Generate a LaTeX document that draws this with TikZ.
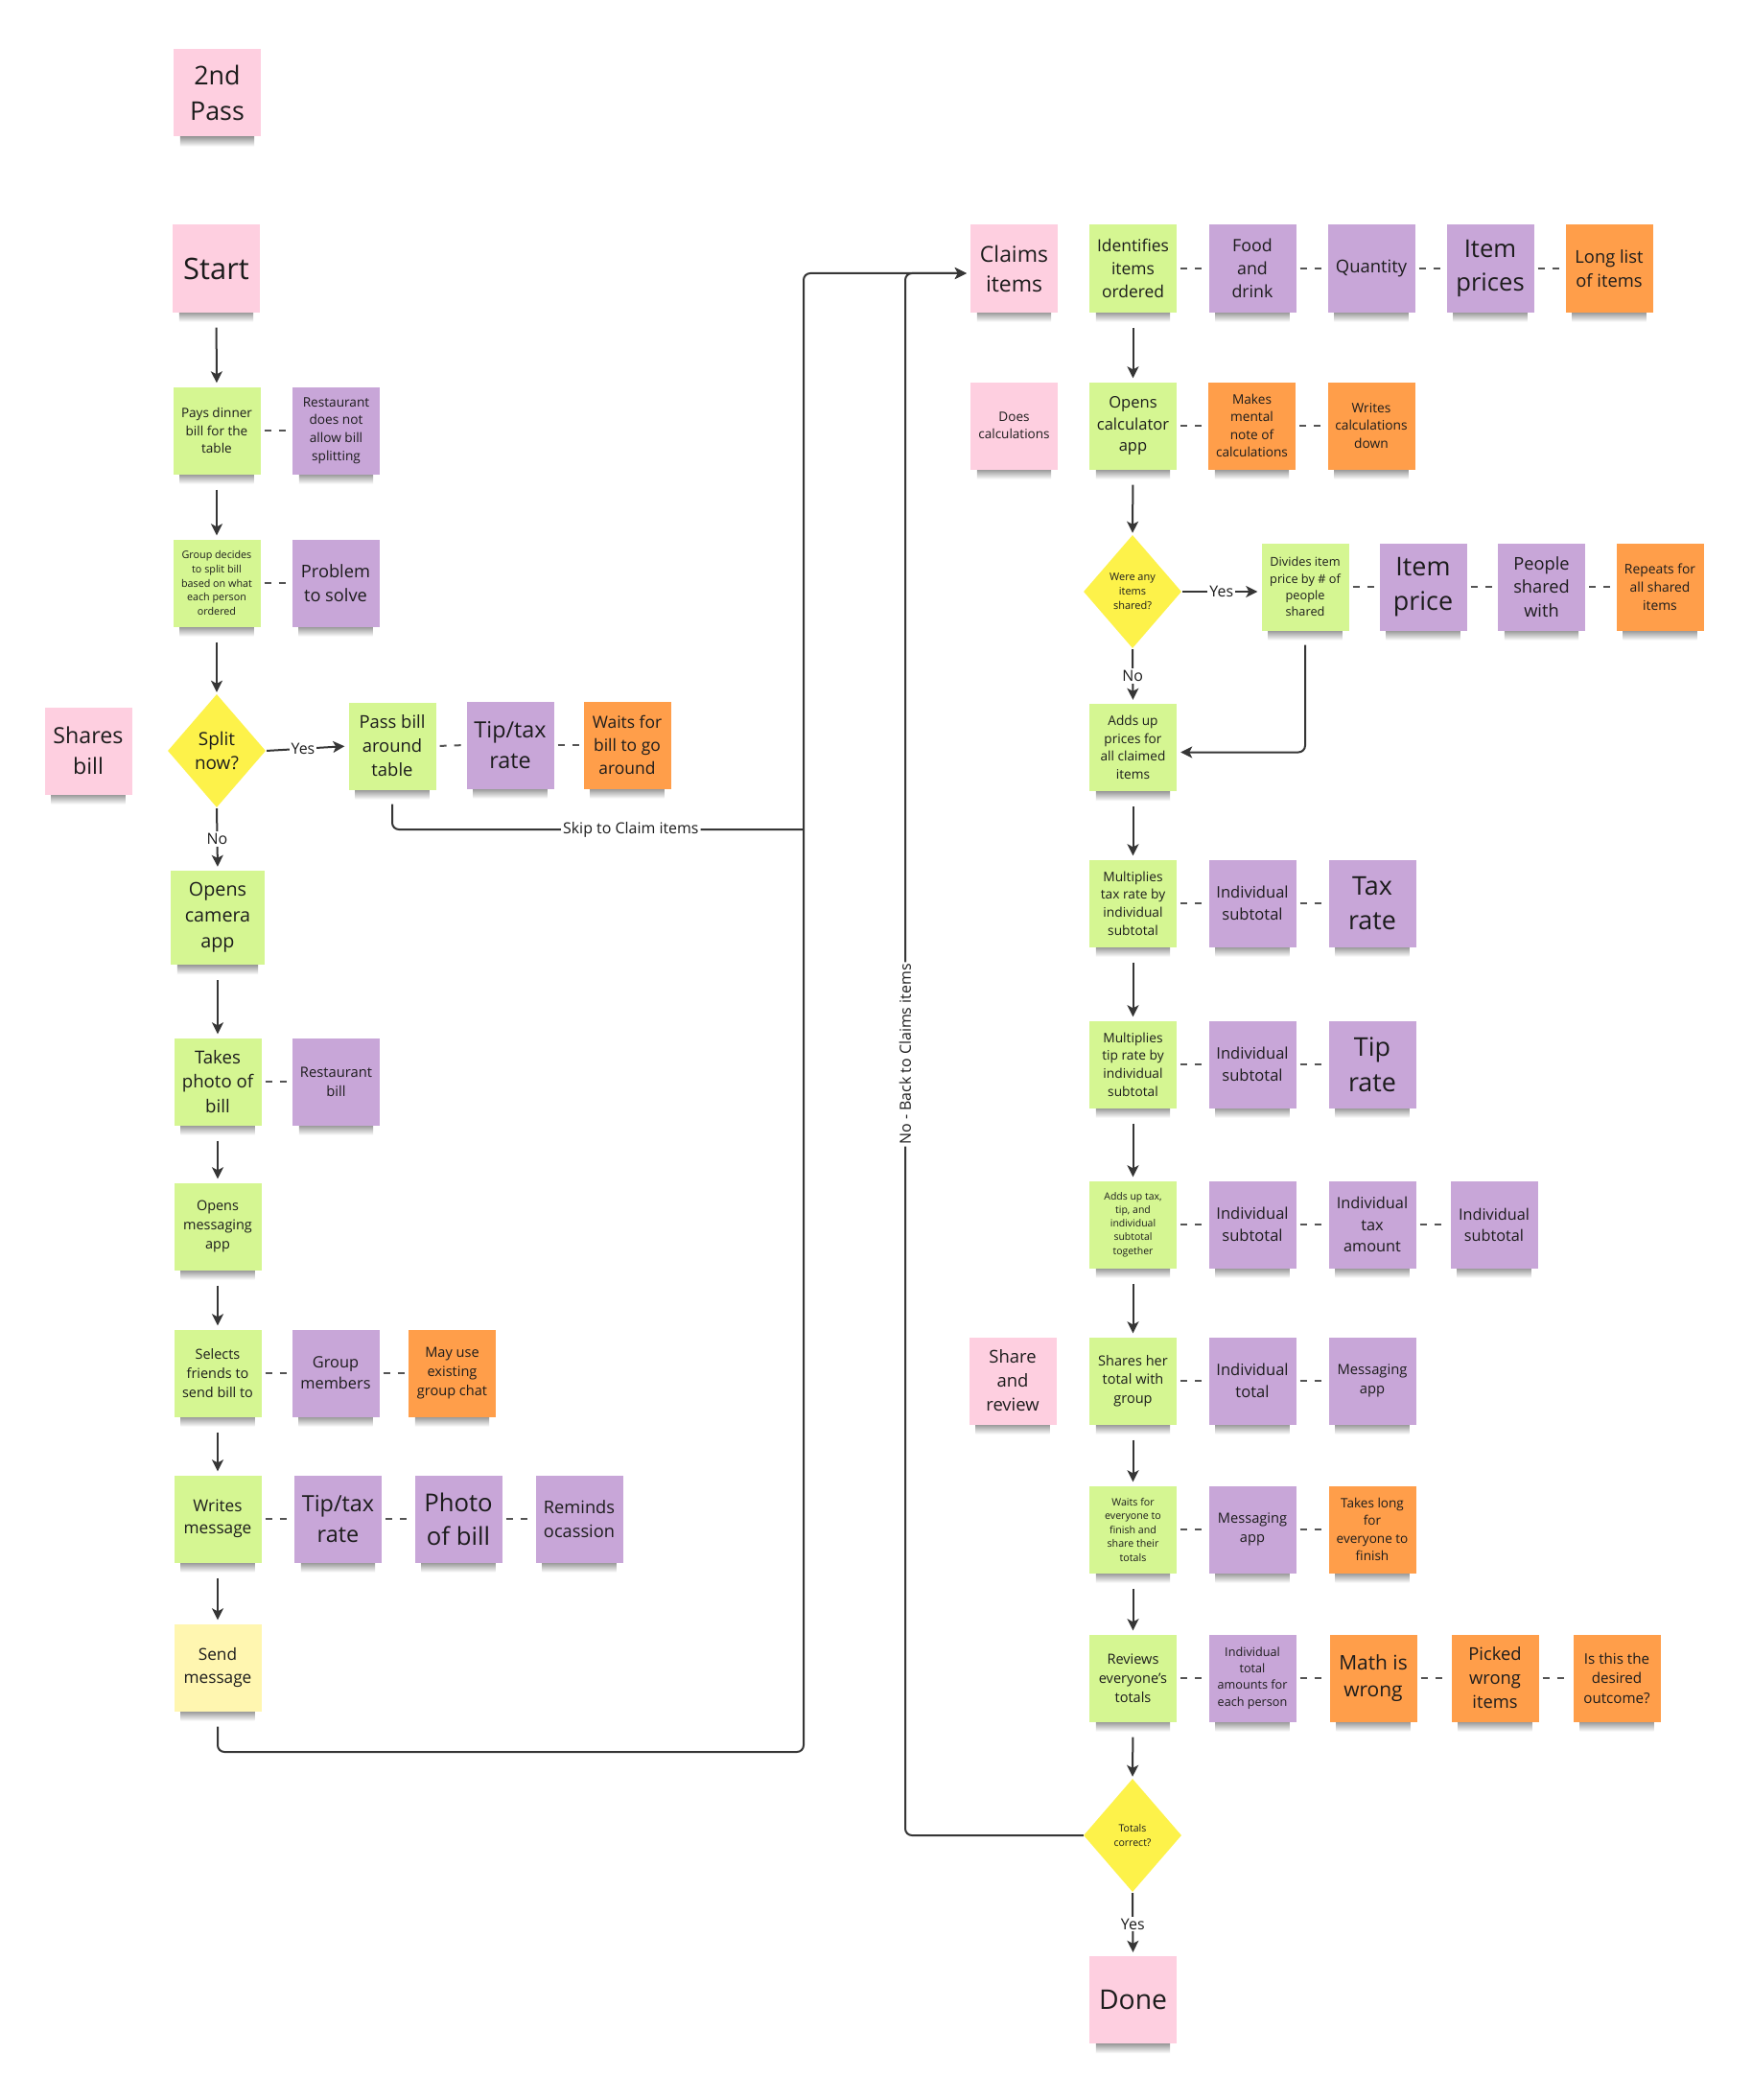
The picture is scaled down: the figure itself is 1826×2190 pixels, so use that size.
\documentclass[tikz,border=0pt]{standalone}
\usepackage{fontspec}
\setmainfont{Open Sans}
\usetikzlibrary{shapes.geometric,arrows.meta}
\pgfdeclarelayer{background}
\pgfsetlayers{background,main}
\definecolor{pinkC}{HTML}{FECFE0}
\definecolor{greenC}{HTML}{D5F692}
\definecolor{purpleC}{HTML}{C8A6D8}
\definecolor{orangeC}{HTML}{FF9E4A}
\definecolor{yelD}{HTML}{FDF24A}
\definecolor{lyC}{HTML}{FFF6B0}
\definecolor{lineC}{HTML}{363636}
\definecolor{txt}{HTML}{1C1C1C}
\newcommand\tfs[1]{\fontsize{#1}{\fpeval{1.36*#1}}\selectfont}
\tikzset{
  note/.style={rectangle, minimum width=91bp, minimum height=91bp, inner sep=1bp, align=center, text=txt},
  pk/.style={note, fill=pinkC},
  gr/.style={note, fill=greenC},
  pu/.style={note, fill=purpleC},
  og/.style={note, fill=orangeC},
  ly/.style={note, fill=lyC},
  tsz/.style={font=\tfs{#1}},
  dia/.style={diamond, fill=yelD, inner sep=0pt, minimum width=102bp, minimum height=118bp, align=center, text=txt},
  conn/.style={draw=lineC, line width=2bp},
  arr/.style={conn, -{Stealth[length=12bp,width=12bp,inset=3bp]}, shorten >=4bp},
  dsh/.style={draw=lineC!85, line width=2bp, dash pattern=on 7bp off 8bp, shorten <=4bp, shorten >=4bp},
  lbl/.style={fill=white, inner sep=2bp, text=txt, font=\fontsize{16}{19}\selectfont},
}
\begin{document}
\begin{tikzpicture}[x=1bp,y=-1bp]
\begin{pgfonlayer}{background}
\fill[white] (0,0) rectangle (1826,2190);
\end{pgfonlayer}
\useasboundingbox (0,0) rectangle (1826,2190);

% ---------- left column ----------
\node[pk, tsz=27] (pass2) at (226.5,97) {2nd\\Pass};
\node[pk, tsz=31] (start) at (225.5,280) {Start};
\node[gr, tsz=13.6] (pays) at (226,449) {Pays dinner\\bill for the\\table};
\node[pu, tsz=13.7] (rest1) at (350.5,449) {Restaurant\\does not\\allow bill\\splitting};
\node[gr, tsz=10.8] (group) at (226,608) {Group decides\\to split bill\\based on what\\each person\\ordered};
\node[pu, tsz=18.3] (problem) at (350,608) {Problem\\to solve};
\node[dia, tsz=19] (split) at (226,783) {Split\\now?};
\node[pk, tsz=23.3] (shares) at (92,783) {Shares\\bill};
\node[gr, tsz=18.5] (passbill) at (409,778) {Pass bill\\around\\table};
\node[pu, tsz=23.4] (tiptax1) at (532,777) {Tip/tax\\rate};
\node[og, tsz=17.5] (waits1) at (654,777) {Waits for\\bill to go\\around};
\node[gr, tsz=19.8, minimum width=98bp, minimum height=98bp] (camera) at (227,957) {Opens\\camera\\app};
\node[gr, tsz=18.7] (photo) at (227,1128) {Takes\\photo of\\bill};
\node[pu, tsz=14.8] (rbill) at (350.5,1128) {Restaurant\\bill};
\node[gr, tsz=14.5] (msgapp) at (227,1279) {Opens\\messaging\\app};
\node[gr, tsz=14.5] (selects) at (227,1432) {Selects\\friends to\\send bill to};
\node[pu, tsz=16.4] (members) at (350,1432) {Group\\members};
\node[og, tsz=14.6] (mayuse) at (471.5,1432) {May use\\existing\\group chat};
\node[gr, tsz=17.3] (writes) at (227,1584) {Writes\\message};
\node[pu, tsz=23.5] (tiptax2) at (352.5,1584) {Tip/tax\\rate};
\node[pu, tsz=25.8] (photobill) at (478,1584) {Photo\\of bill};
\node[pu, tsz=18.3] (reminds) at (604,1584) {Reminds\\ocassion};
\node[ly, tsz=17.3] (send) at (227,1739) {Send\\message};

% ---------- right column ----------
\node[pk, tsz=23] (claims) at (1057.5,280) {Claims\\items};
\node[gr, tsz=17.5] (identifies) at (1181.5,280) {Identifies\\items\\ordered};
\node[pu, tsz=17.9] (food) at (1306,280) {Food\\and\\drink};
\node[pu, tsz=18.5] (quantity) at (1430,280) {Quantity};
\node[pu, tsz=25.7] (itemprices) at (1554,280) {Item\\prices};
\node[og, tsz=18.4] (longlist) at (1678,280) {Long list\\of items};

\node[pk, tsz=13.6] (docalc) at (1057.5,444) {Does\\calculations};
\node[gr, tsz=16.6] (opencalc) at (1181.5,444) {Opens\\calculator\\app};
\node[og, tsz=13.7] (mental) at (1305.5,444) {Makes\\mental\\note of\\calculations};
\node[og, tsz=13.8] (writecalc) at (1430,444) {Writes\\calculations\\down};

\node[dia, tsz=11] (shared) at (1181,617) {Were any\\items\\shared?};
\node[gr, tsz=12.8] (divides) at (1361,612) {Divides item\\price by \# of\\people\\shared};
\node[pu, tsz=27] (itemprice) at (1484,612) {Item\\price};
\node[pu, tsz=18.3] (people) at (1607.5,612) {People\\shared\\with};
\node[og, tsz=13.9] (repeats) at (1731,612) {Repeats for\\all shared\\items};

\node[gr, tsz=13.7] (addsup) at (1181.5,779.5) {Adds up\\prices for\\all claimed\\items};

\node[gr, tsz=13.8] (multax) at (1181.5,942) {Multiplies\\tax rate by\\individual\\subtotal};
\node[pu, tsz=16.6] (sub1) at (1306,942) {Individual\\subtotal};
\node[pu, tsz=27] (taxrate) at (1431,942) {Tax\\rate};

\node[gr, tsz=13.8] (multip) at (1181.5,1110) {Multiplies\\tip rate by\\individual\\subtotal};
\node[pu, tsz=16.6] (sub2) at (1306,1110) {Individual\\subtotal};
\node[pu, tsz=27] (tiprate) at (1431,1110) {Tip\\rate};

\node[gr, tsz=10.5] (addtax) at (1181.5,1277) {Adds up tax,\\tip, and\\individual\\subtotal\\together};
\node[pu, tsz=16.6] (sub3) at (1306,1277) {Individual\\subtotal};
\node[pu, tsz=16.4] (taxamt) at (1431,1277) {Individual\\tax\\amount};
\node[pu, tsz=16.3] (sub4) at (1558,1277) {Individual\\subtotal};

\node[pk, tsz=18.5] (sharerev) at (1056,1440) {Share\\and\\review};
\node[gr, tsz=14.6] (sharesher) at (1181.5,1440) {Shares her\\total with\\group};
\node[pu, tsz=16.6] (indtotal) at (1306,1440) {Individual\\total};
\node[pu, tsz=14.8] (msg1) at (1431,1440) {Messaging\\app};

\node[gr, tsz=10.7] (waitsall) at (1181.5,1595) {Waits for\\everyone to\\finish and\\share their\\totals};
\node[pu, tsz=14.7] (msg2) at (1306,1595) {Messaging\\app};
\node[og, tsz=13.6] (takeslong) at (1431,1595) {Takes long\\for\\everyone to\\finish};

\node[gr, tsz=14.6] (reviews) at (1181.5,1750) {Reviews\\everyone's\\totals};
\node[pu, tsz=12.7] (indamts) at (1306,1750) {Individual\\total\\amounts for\\each person};
\node[og, tsz=21] (mathwrong) at (1432,1750) {Math is\\wrong};
\node[og, tsz=18.4] (picked) at (1559,1750) {Picked\\wrong\\items};
\node[og, tsz=15.2] (isthis) at (1686,1750) {Is this the\\desired\\outcome?};

\node[dia, tsz=10.6] (totals) at (1181,1914) {Totals\\correct?};
\node[pk, tsz=28.4] (done) at (1181.5,2085.5) {Done};

% ---------- shadows ----------
\begin{pgfonlayer}{background}
\foreach \n in {pass2,start,pays,rest1,group,problem,shares,passbill,tiptax1,waits1,camera,photo,rbill,msgapp,selects,members,mayuse,writes,tiptax2,photobill,reminds,send,claims,identifies,food,quantity,itemprices,longlist,docalc,opencalc,mental,writecalc,divides,itemprice,people,repeats,addsup,multax,sub1,taxrate,multip,sub2,tiprate,addtax,sub3,taxamt,sub4,sharerev,sharesher,indtotal,msg1,waitsall,msg2,takeslong,reviews,indamts,mathwrong,picked,isthis,done}{
  \shade[top color=black!48, bottom color=white] ([xshift=7bp,yshift=2bp]\n.south west) rectangle ([xshift=-7bp,yshift=-10bp]\n.south east);
}
\end{pgfonlayer}

% ---------- connector bend points ----------
\coordinate (jx) at (838,1827);
\coordinate (jt) at (838,285);
\coordinate (jk) at (838,865);
\coordinate (nt) at (944,285);

% ---------- left flow ----------
\draw[arr, shorten <=16bp] (start.south) -- (pays.north);
\draw[arr, shorten <=16bp] (pays.south) -- (group.north);
\draw[arr, shorten <=16bp, shorten >=2bp] (group.south) -- (split.north);
\draw[arr, shorten <=1bp] (split.east) -- node[lbl, pos=0.45] {Yes} (passbill.west);
\draw[arr, shorten <=1bp] (split.south) -- node[lbl] {No} (camera.north);
\draw[arr, shorten <=16bp] (camera.south) -- (photo.north);
\draw[arr, shorten <=16bp] (photo.south) -- (msgapp.north);
\draw[arr, shorten <=16bp] (msgapp.south) -- (selects.north);
\draw[arr, shorten <=16bp] (selects.south) -- (writes.north);
\draw[arr, shorten <=16bp] (writes.south) -- (send.north);

\draw[dsh] (pays.east) -- (rest1.west);
\draw[dsh] (group.east) -- (problem.west);
\draw[dsh] (passbill.east) -- (tiptax1.west);
\draw[dsh] (tiptax1.east) -- (waits1.west);
\draw[dsh] (photo.east) -- (rbill.west);
\draw[dsh] (selects.east) -- (members.west);
\draw[dsh] (members.east) -- (mayuse.west);
\draw[dsh] (writes.east) -- (tiptax2.west);
\draw[dsh] (tiptax2.east) -- (photobill.west);
\draw[dsh] (photobill.east) -- (reminds.west);

% ---------- loops ----------
\draw[arr, rounded corners=7bp] ([yshift=-16bp]send.south) |- (jx) -- (jt) -- (jt -| claims.west);
\draw[conn, rounded corners=7bp] ([yshift=-15bp]passbill.south) |- node[lbl, pos=0.79] {Skip to Claim items} (jk);
\draw[arr, rounded corners=7bp] (totals.west) -| node[lbl, rotate=90, pos=0.75] {No - Back to Claims items} (nt) -- (jt -| claims.west);

% ---------- right flow ----------
\draw[arr, shorten <=16bp] (identifies.south) -- (opencalc.north);
\draw[arr, shorten <=16bp, shorten >=2bp] (opencalc.south) -- (shared.north);
\draw[arr, shorten <=1bp] (shared.east) -- node[lbl] {Yes} (divides.west |- shared.east);
\draw[arr, shorten <=1bp] (shared.south) -- node[lbl] {No} (addsup.north);
\draw[arr, rounded corners=7bp] ([yshift=-15bp]divides.south) |- ([yshift=-5bp]addsup.east);
\draw[arr, shorten <=16bp] (addsup.south) -- (multax.north);
\draw[arr, shorten <=16bp] (multax.south) -- (multip.north);
\draw[arr, shorten <=16bp] (multip.south) -- (addtax.north);
\draw[arr, shorten <=16bp] (addtax.south) -- (sharesher.north);
\draw[arr, shorten <=16bp] (sharesher.south) -- (waitsall.north);
\draw[arr, shorten <=16bp] (waitsall.south) -- (reviews.north);
\draw[arr, shorten <=16bp, shorten >=2bp] (reviews.south) -- (totals.north);
\draw[arr, shorten <=1bp] (totals.south) -- node[lbl] {Yes} (done.north);

\draw[dsh] (identifies.east) -- (food.west);
\draw[dsh] (food.east) -- (quantity.west);
\draw[dsh] (quantity.east) -- (itemprices.west);
\draw[dsh] (itemprices.east) -- (longlist.west);
\draw[dsh] (opencalc.east) -- (mental.west);
\draw[dsh] (mental.east) -- (writecalc.west);
\draw[dsh] (divides.east) -- (itemprice.west);
\draw[dsh] (itemprice.east) -- (people.west);
\draw[dsh] (people.east) -- (repeats.west);
\draw[dsh] (multax.east) -- (sub1.west);
\draw[dsh] (sub1.east) -- (taxrate.west);
\draw[dsh] (multip.east) -- (sub2.west);
\draw[dsh] (sub2.east) -- (tiprate.west);
\draw[dsh] (addtax.east) -- (sub3.west);
\draw[dsh] (sub3.east) -- (taxamt.west);
\draw[dsh] (taxamt.east) -- (sub4.west);
\draw[dsh] (sharesher.east) -- (indtotal.west);
\draw[dsh] (indtotal.east) -- (msg1.west);
\draw[dsh] (waitsall.east) -- (msg2.west);
\draw[dsh] (msg2.east) -- (takeslong.west);
\draw[dsh] (reviews.east) -- (indamts.west);
\draw[dsh] (indamts.east) -- (mathwrong.west);
\draw[dsh] (mathwrong.east) -- (picked.west);
\draw[dsh] (picked.east) -- (isthis.west);
\end{tikzpicture}
\end{document}
